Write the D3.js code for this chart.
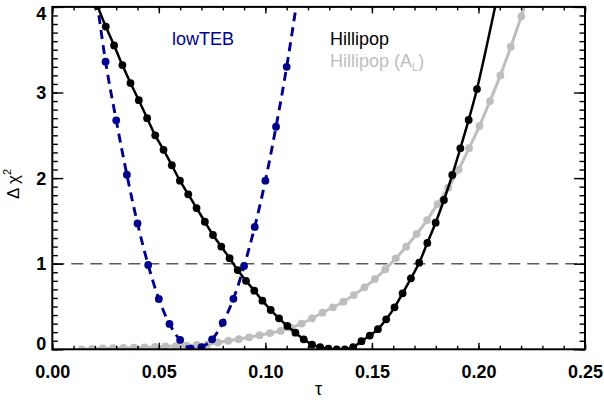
<!DOCTYPE html>
<html>
<head>
<meta charset="utf-8">
<script src="https://cdn.jsdelivr.net/npm/d3@7"></script>
<style>
  html, body { margin: 0; padding: 0; background: #fff; }
  svg { display: block; }
  text { font-family: "Liberation Sans", Arial, Helvetica, sans-serif; }
</style>
</head>
<body>
<svg id="chart" width="604" height="401"></svg>
<script>
// ---------- data ----------
const xTicks = [0.00, 0.05, 0.10, 0.15, 0.20, 0.25];
const xTickLabels = ["0.00", "0.05", "0.10", "0.15", "0.20", "0.25"];
const yTicks = [0, 1, 2, 3, 4];
const yTickLabels = ["0", "1", "2", "3", "4"];

// lowTEB (dots)
const lowTEBTau = [0.025, 0.030, 0.035, 0.040, 0.045, 0.050, 0.055, 0.060, 0.065, 0.070,
                   0.075, 0.080, 0.085, 0.090, 0.095, 0.100, 0.105, 0.110];
const lowTEBDchi2 = [3.36, 2.675, 2.04, 1.47, 0.985, 0.588, 0.296, 0.109, 0.008, 0.025,
                     0.117, 0.31, 0.59, 0.973, 1.43, 1.97, 2.60, 3.30];
// lowTEB fitted line continues past the last dots to the frame
const lowTEBLineEndsTau = [0.020, 0.115];
const lowTEBLineEndsDchi2 = [4.25, 4.10];

// Hillipop (dots)
const hillipopTau = [0.0212, 0.0251, 0.0290, 0.0329, 0.0367, 0.0406, 0.0445, 0.0483, 0.0522, 0.0561,
                     0.0599, 0.0638, 0.0677, 0.0716, 0.0754, 0.0793, 0.0832, 0.0870, 0.0909, 0.0948,
                     0.0986, 0.1025, 0.1064, 0.1103, 0.1141, 0.1180, 0.1219, 0.1257, 0.1296, 0.1335,
                     0.1373, 0.1412, 0.1451, 0.1490, 0.1528, 0.1567, 0.1606, 0.1644, 0.1683, 0.1722,
                     0.1760, 0.1799, 0.1838, 0.1877, 0.1915, 0.1954, 0.1993];
const hillipopDchi2 = [4.01, 3.77, 3.55, 3.32, 3.11, 2.91, 2.70, 2.50, 2.33, 2.15,
                       1.97, 1.81, 1.65, 1.49, 1.335, 1.20, 1.065, 0.926, 0.80, 0.685,
                       0.568, 0.459, 0.362, 0.272, 0.194, 0.117, 0.055, 0.025, 0.008, 0.0,
                       0.0, 0.025, 0.095, 0.16, 0.235, 0.35, 0.49, 0.654, 0.829, 1.012,
                       1.242, 1.479, 1.744, 2.036, 2.348, 2.68, 3.04];
const hillipopLineEndsTau = [0.2095];
const hillipopLineEndsDchi2 = [4.20];

// Hillipop (A_L) (dots)
const hillipopALTau = [0.0138, 0.0187, 0.0236, 0.0285, 0.0334, 0.0383, 0.0433, 0.0482, 0.0531, 0.0580,
                       0.0629, 0.0678, 0.0728, 0.0777, 0.0826, 0.0875, 0.0924, 0.0973, 0.1022, 0.1072,
                       0.1121, 0.1170, 0.1219, 0.1268, 0.1317, 0.1366, 0.1415, 0.1465, 0.1514, 0.1563,
                       0.1612, 0.1661, 0.1710, 0.1759, 0.1808, 0.1858, 0.1907, 0.1956, 0.2005, 0.2054,
                       0.2103, 0.2152, 0.2201];
const hillipopALDchi2 = [0.0, 0.005, 0.01, 0.012, 0.015, 0.018, 0.022, 0.027, 0.033, 0.038,
                         0.044, 0.05, 0.058, 0.08, 0.10, 0.118, 0.14, 0.165, 0.19, 0.215,
                         0.25, 0.30, 0.362, 0.428, 0.49, 0.556, 0.634, 0.724, 0.82, 0.935,
                         1.063, 1.199, 1.347, 1.51, 1.697, 1.888, 2.10, 2.35, 2.61, 2.90,
                         3.20, 3.535, 3.89];
const hillipopALLineEndsTau = [0.2235];
const hillipopALLineEndsDchi2 = [4.15];

const refLevel = 1;

// ---------- layout ----------
const svg = d3.select("#chart");
const L = 52.3, R = 585, T = 6.9, B = 349.3;
const x = d3.scaleLinear().domain([0, 0.25]).range([L, R]);
const y = d3.scaleLinear().domain([0, 4]).range([B, T]);

const zip = (a, b) => a.map((v, i) => ({ t: v, d: b[i] }));
const lowTEB = zip(lowTEBTau, lowTEBDchi2);
const hil = zip(hillipopTau, hillipopDchi2);
const hilAL = zip(hillipopALTau, hillipopALDchi2);
const lowTEBLine = [{ t: lowTEBLineEndsTau[0], d: lowTEBLineEndsDchi2[0] }, ...lowTEB,
                    { t: lowTEBLineEndsTau[1], d: lowTEBLineEndsDchi2[1] }];
const hilLine = [...hil, ...zip(hillipopLineEndsTau, hillipopLineEndsDchi2)];
const hilALLine = [...hilAL, ...zip(hillipopALLineEndsTau, hillipopALLineEndsDchi2)];

svg.append("defs").append("clipPath").attr("id", "clip")
  .append("rect").attr("x", L).attr("y", T).attr("width", R - L).attr("height", B - T);

const plot = svg.append("g").attr("clip-path", "url(#clip)");

// reference line Δχ² = 1
plot.append("line")
  .attr("x1", L).attr("x2", R).attr("y1", y(refLevel)).attr("y2", y(refLevel))
  .attr("stroke", "#5a5a5a").attr("stroke-width", 1.5).attr("stroke-dasharray", "12,7");

const line = d3.line().x(p => x(p.t)).y(p => y(p.d)).curve(d3.curveCatmullRom);

// Hillipop (A_L) gray
plot.append("path").datum(hilALLine).attr("d", line)
  .attr("fill", "none").attr("stroke", "#bebebe").attr("stroke-width", 3);
plot.append("g").selectAll("circle").data(hilAL).join("circle")
  .attr("cx", p => x(p.t)).attr("cy", p => y(p.d)).attr("r", 3.9).attr("fill", "#bebebe");

// lowTEB navy dashed
plot.append("path").datum(lowTEBLine).attr("d", line)
  .attr("fill", "none").attr("stroke", "#00008b").attr("stroke-width", 2.9)
  .attr("stroke-dasharray", "9,6");
plot.append("g").selectAll("circle").data(lowTEB).join("circle")
  .attr("cx", p => x(p.t)).attr("cy", p => y(p.d)).attr("r", 3.9).attr("fill", "#00008b");

// Hillipop black
plot.append("path").datum(hilLine).attr("d", line)
  .attr("fill", "none").attr("stroke", "#000").attr("stroke-width", 2.5);
plot.append("g").selectAll("circle").data(hil).join("circle")
  .attr("cx", p => x(p.t)).attr("cy", p => y(p.d)).attr("r", 3.9).attr("fill", "#000");

// ---------- axes ----------
const xMinor = d3.range(0, 0.2501, 0.01);
const yMinor = d3.range(0, 4.001, 0.1);

function styleAxis(g) {
  g.select(".domain").remove();
  g.selectAll(".tick line").attr("stroke", "#000").attr("stroke-width", 1.4);
}

// bottom
svg.append("g").attr("transform", `translate(0,${B})`)
  .call(d3.axisBottom(x).tickValues(xMinor).tickSize(-3.5).tickFormat(""))
  .call(styleAxis);
const xb = svg.append("g").attr("transform", `translate(0,${B})`)
  .call(d3.axisBottom(x).tickValues(xTicks).tickSize(-6.5).tickPadding(16)
        .tickFormat((d, i) => xTickLabels[i]))
  .call(styleAxis);
xb.selectAll("text").attr("font-size", 18).attr("font-weight", "bold").attr("fill", "#000");
// top
svg.append("g").attr("transform", `translate(0,${T})`)
  .call(d3.axisTop(x).tickValues(xMinor).tickSize(-3.5).tickFormat(""))
  .call(styleAxis);
svg.append("g").attr("transform", `translate(0,${T})`)
  .call(d3.axisTop(x).tickValues(xTicks).tickSize(-6.5).tickFormat(""))
  .call(styleAxis);
// left
svg.append("g").attr("transform", `translate(${L},0)`)
  .call(d3.axisLeft(y).tickValues(yMinor).tickSize(-5.5).tickFormat(""))
  .call(styleAxis);
const yl = svg.append("g").attr("transform", `translate(${L},0)`)
  .call(d3.axisLeft(y).tickValues(yTicks).tickSize(-11).tickPadding(6)
        .tickFormat((d, i) => yTickLabels[i]))
  .call(styleAxis);
yl.selectAll("text").attr("font-size", 18).attr("font-weight", "bold").attr("fill", "#000")
  .attr("dy", d => d === 0 ? "-0.0em" : d === 4 ? "0.72em" : "0.34em");
// right
svg.append("g").attr("transform", `translate(${R},0)`)
  .call(d3.axisRight(y).tickValues(yMinor).tickSize(-5.5).tickFormat(""))
  .call(styleAxis);
svg.append("g").attr("transform", `translate(${R},0)`)
  .call(d3.axisRight(y).tickValues(yTicks).tickSize(-11).tickFormat(""))
  .call(styleAxis);

// frame
svg.append("rect").attr("x", L).attr("y", T).attr("width", R - L).attr("height", B - T)
  .attr("fill", "none").attr("stroke", "#000").attr("stroke-width", 2);

// axis titles
svg.append("text").attr("x", (L + R) / 2).attr("y", 395).attr("text-anchor", "middle")
  .attr("font-size", 18).text("τ");
const yt = svg.append("text").attr("transform", "translate(19,184) rotate(-90)")
  .attr("text-anchor", "middle").attr("font-size", 17);
yt.append("tspan").text("Δ χ");
yt.append("tspan").attr("font-size", 11).attr("dy", -8).text("2");

// legend texts
svg.append("text").attr("x", 172).attr("y", 45).attr("font-size", 18)
  .attr("fill", "#00008b").text("lowTEB");
svg.append("text").attr("x", 330).attr("y", 45).attr("font-size", 18)
  .attr("fill", "#000").text("Hillipop");
const al = svg.append("text").attr("x", 330).attr("y", 67).attr("font-size", 18)
  .attr("fill", "#bebebe");
al.append("tspan").text("Hillipop (A");
al.append("tspan").attr("font-size", 11).attr("dy", 4).text("L");
al.append("tspan").attr("dy", -4).text(")");
</script>
</body>
</html>
